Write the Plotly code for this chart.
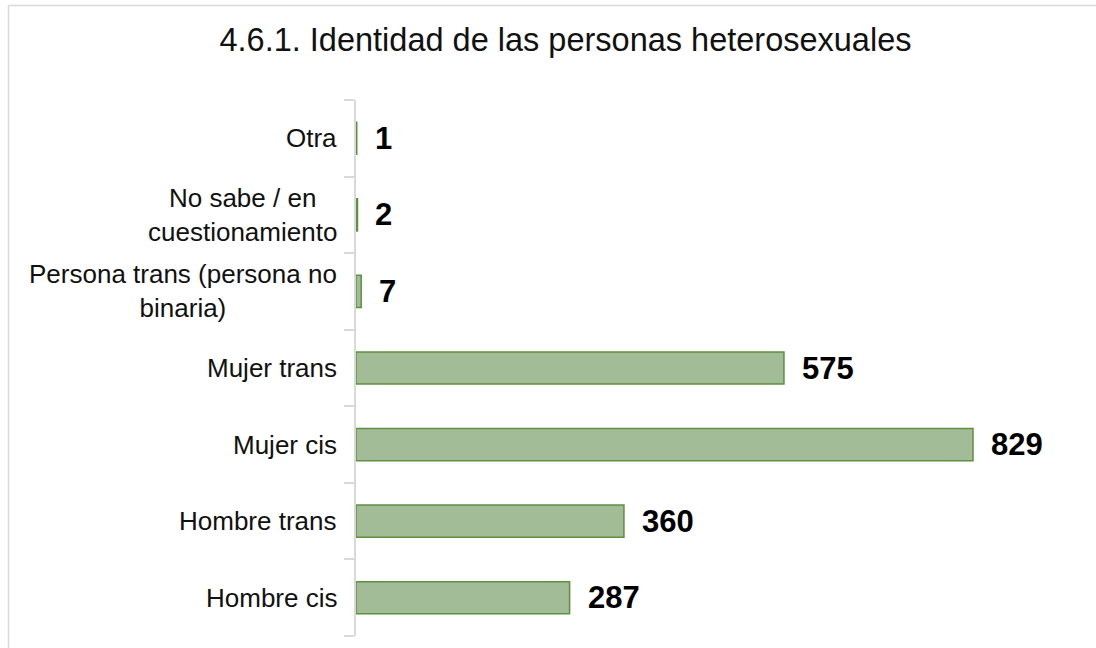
import plotly.graph_objects as go

categories = ["Hombre cis", "Hombre trans", "Mujer cis", "Mujer trans",
              "Persona trans (persona no<br>binaria)", "No sabe / en<br>cuestionamiento", "Otra"]
values = [287, 360, 829, 575, 7, 2, 1]
title_text = "4.6.1. Identidad de las personas heterosexuales"

W, H = 1096, 648
L, R, T, B = 356, 70, 100, 12
pw, ph = W - L - R, H - T - B
FONT = "Arial, Liberation Sans, sans-serif"

fig = go.Figure()
fig.add_trace(go.Bar(
    x=values, y=categories, orientation="h",
    marker=dict(color="#a1bc96", line=dict(color="#5f8f40", width=1.5)),
    width=0.42, hoverinfo="x+y",
))

# value labels
for c, v in zip(categories, values):
    fig.add_annotation(x=v, y=c, text=f"<b>{v}</b>", showarrow=False,
                       xanchor="left", xshift=16,
                       font=dict(family=FONT, size=31, color="#000000"))

# category labels (centred multi-line text, right edge near the axis)
for c in categories:
    fig.add_annotation(xref="paper", x=0, y=c, text=c, showarrow=False,
                       xanchor="right", xshift=-17, align="center",
                       font=dict(family=FONT, size=26, color="#111111"))

# outer border
bx = (8.5 - L) / pw
by = 1 + (T - 5.5) / ph
fig.add_shape(type="line", xref="paper", yref="paper", x0=bx, x1=2, y0=by, y1=by,
              line=dict(color="#d9d9d9", width=1.5))
fig.add_shape(type="line", xref="paper", yref="paper", x0=bx, x1=bx, y0=by, y1=-1,
              line=dict(color="#d9d9d9", width=1.5))

fig.update_layout(
    width=W, height=H,
    margin=dict(l=L, r=R, t=T, b=B),
    paper_bgcolor="white", plot_bgcolor="white",
    showlegend=False,
    title=dict(text=title_text, x=565.5 / W, xanchor="center", y=1 - 40 / H, yanchor="middle",
               font=dict(family=FONT, size=32.5, color="#111111")),
    xaxis=dict(range=[0, pw / (617 / 829)], visible=False, fixedrange=True),
    yaxis=dict(type="category", categoryorder="array", categoryarray=categories,
               range=[-0.5, 6.5], showticklabels=False,
               showline=True, linecolor="#d9d9d9", linewidth=1.5,
               ticks="outside", tickson="boundaries", ticklen=10, tickcolor="#d9d9d9", tickwidth=1.5,
               showgrid=False, zeroline=False, fixedrange=True),
)

fig.write_html("out.html", config={"displayModeBar": False},
               post_script="document.body.style.margin='0';")
